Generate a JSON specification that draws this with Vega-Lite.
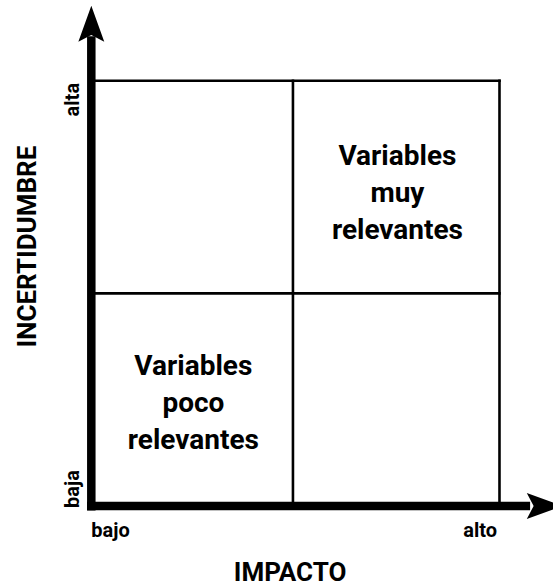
{
  "$schema": "https://vega.github.io/schema/vega-lite/v6.json",
  "width": 553,
  "height": 587,
  "padding": 0,
  "autosize": {"type": "none"},
  "background": "white",
  "config": {"view": {"stroke": null}, "text": {"font": "Roboto", "fontWeight": "bold", "color": "black"}},
  "datasets": {
    "grid": [
      {"x": 0, "x2": 100, "y": 100, "y2": 100},
      {"x": 100, "x2": 100, "y": 0, "y2": 100},
      {"x": 49.4, "x2": 49.4, "y": 0, "y2": 100},
      {"x": 0, "x2": 100, "y": 50, "y2": 50}
    ],
    "axes": [
      {"x": 0, "x2": 0, "y": -1.06, "y2": 110.5},
      {"x": -1.05, "x2": 107.5, "y": 0, "y2": 0}
    ],
    "headUp": [{"x": 0, "y": 113.4}],
    "headRight": [{"x": 111.1, "y": 0}],
    "quadrants": [
      {"x": 75.0, "y": 82.0, "label": "Variables\nmuy\nrelevantes"},
      {"x": 25.0, "y": 32.6, "label": "Variables\npoco\nrelevantes"}
    ],
    "ticksLeftAlign": [
      {"x": 0, "y": -7.2, "label": "bajo"}
    ],
    "ticksRightAlign": [
      {"x": 99.4, "y": -7.4, "label": "alto"}
    ],
    "vertTop": [
      {"x": -3.0, "y": 99.5, "label": "alta"}
    ],
    "vertBottom": [
      {"x": -3.0, "y": -0.47, "label": "baja"}
    ],
    "titleX": [
      {"x": 48.7, "y": -17.6, "label": "IMPACTO"}
    ],
    "titleY": [
      {"x": -13.55, "y": 61.0, "label": "INCERTIDUMBRE"}
    ]
  },
  "encoding": {
    "x": {"field": "x", "type": "quantitative", "scale": {"domain": [-22.37, 113.11], "nice": false, "zero": false}, "axis": null},
    "y": {"field": "y", "type": "quantitative", "scale": {"domain": [-19.05, 119.0], "nice": false, "zero": false}, "axis": null}
  },
  "layer": [
    {
      "data": {"name": "grid"},
      "mark": {"type": "rule", "color": "black", "strokeWidth": 2.6, "strokeCap": "square"},
      "encoding": {"x2": {"field": "x2"}, "y2": {"field": "y2"}}
    },
    {
      "data": {"name": "axes"},
      "mark": {"type": "rule", "color": "black", "strokeWidth": 8.5, "strokeCap": "butt"},
      "encoding": {"x2": {"field": "x2"}, "y2": {"field": "y2"}}
    },
    {
      "data": {"name": "headUp"},
      "mark": {"type": "point", "shape": "M0,-1L0.72,1L0,0.62L-0.72,1Z", "size": 1296, "filled": true, "fill": "black", "opacity": 1, "strokeWidth": 0}
    },
    {
      "data": {"name": "headRight"},
      "mark": {"type": "point", "shape": "M1,0L-1,0.72L-0.62,0L-1,-0.72Z", "size": 1296, "filled": true, "fill": "black", "opacity": 1, "strokeWidth": 0}
    },
    {
      "data": {"name": "quadrants"},
      "mark": {"type": "text", "font": "Roboto", "fontWeight": "bold", "fontSize": 28, "align": "center", "baseline": "middle", "lineBreak": "\n", "lineHeight": 37, "color": "black"},
      "encoding": {"text": {"field": "label"}}
    },
    {
      "data": {"name": "ticksLeftAlign"},
      "mark": {"type": "text", "font": "Roboto", "fontWeight": "bold", "fontSize": 20, "align": "left", "baseline": "alphabetic", "color": "black"},
      "encoding": {"text": {"field": "label"}}
    },
    {
      "data": {"name": "ticksRightAlign"},
      "mark": {"type": "text", "font": "Roboto", "fontWeight": "bold", "fontSize": 20, "align": "right", "baseline": "alphabetic", "color": "black"},
      "encoding": {"text": {"field": "label"}}
    },
    {
      "data": {"name": "vertTop"},
      "mark": {"type": "text", "font": "Roboto", "fontWeight": "bold", "fontSize": 20, "align": "right", "baseline": "alphabetic", "angle": 270, "color": "black"},
      "encoding": {"text": {"field": "label"}}
    },
    {
      "data": {"name": "vertBottom"},
      "mark": {"type": "text", "font": "Roboto", "fontWeight": "bold", "fontSize": 20, "align": "left", "baseline": "alphabetic", "angle": 270, "color": "black"},
      "encoding": {"text": {"field": "label"}}
    },
    {
      "data": {"name": "titleX"},
      "mark": {"type": "text", "font": "Roboto", "fontWeight": "bold", "fontSize": 26, "align": "center", "baseline": "alphabetic", "color": "black"},
      "encoding": {"text": {"field": "label"}}
    },
    {
      "data": {"name": "titleY"},
      "mark": {"type": "text", "font": "Roboto", "fontWeight": "bold", "fontSize": 26, "align": "center", "baseline": "alphabetic", "angle": 270, "color": "black"},
      "encoding": {"text": {"field": "label"}}
    }
  ]
}
